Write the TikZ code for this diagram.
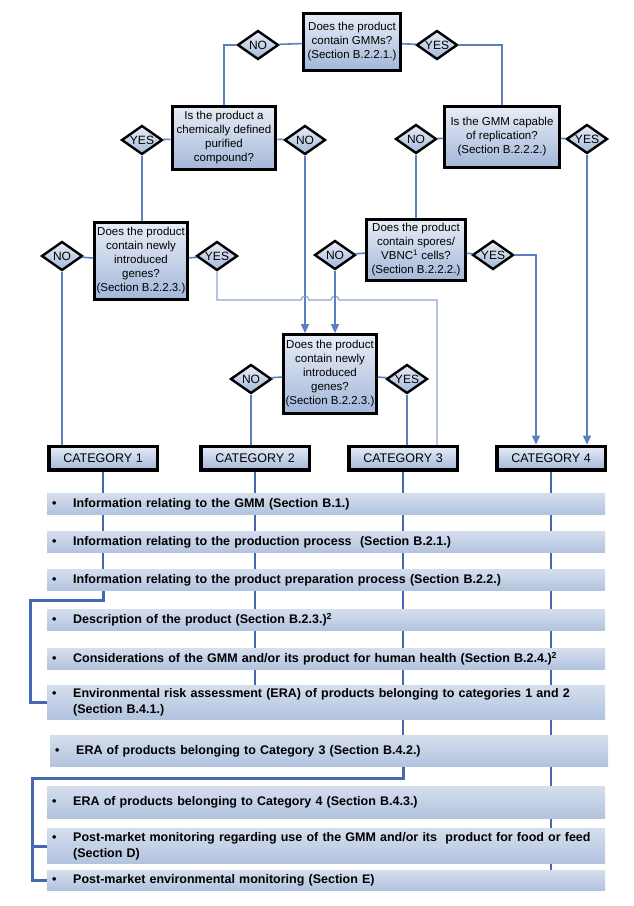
\documentclass[tikz,border=0pt]{standalone}
\usepackage{fontspec}
\setmainfont{Liberation Sans}
\usetikzlibrary{shapes.geometric, arrows.meta, backgrounds}
\definecolor{boxtop}{HTML}{E8EDF6}
\definecolor{boxbot}{HTML}{A3B7D9}
\definecolor{bartop}{HTML}{D5DEED}
\definecolor{barbot}{HTML}{B2C3DF}
\definecolor{flowblue}{HTML}{5B7FC0}
\definecolor{routeblue}{HTML}{4469B0}
\definecolor{hopblue}{HTML}{8DA3CF}
\tikzstyle{question} = [rectangle, draw=black, line width=3.2pt, top color=boxtop, bottom color=boxbot, align=center, inner sep=1pt, font=\fontsize{11.5}{14}\selectfont]
\tikzstyle{answer} = [diamond, aspect=1.4, draw=black, line width=2.4pt, top color=boxtop, bottom color=boxbot, inner sep=0pt, minimum width=41pt, minimum height=29pt, font=\fontsize{12}{12}\selectfont]
\tikzstyle{category} = [rectangle, draw=black, line width=3.5pt, top color=boxtop, bottom color=boxbot, minimum width=108.5pt, minimum height=23.5pt, font=\fontsize{12.5}{14}\selectfont]
\tikzstyle{infobar} = [rectangle, anchor=west, top color=bartop, bottom color=barbot, text width=548pt, inner xsep=5pt, inner ysep=2pt, align=left, minimum height=21pt, font=\bfseries\fontsize{12.5}{16}\selectfont]
\tikzstyle{flow} = [draw=flowblue, line width=1.6pt]
\tikzstyle{arrow} = [flow, -{Triangle[length=9pt, width=8pt]}]
\tikzstyle{route} = [draw=routeblue, line width=3pt]
\newcommand{\bitem}{\makebox[21pt][l]{\textbullet}}
\newcommand{\bindent}{\hspace*{21pt}}

\begin{document}
\begin{tikzpicture}[x=1pt, y=-1pt]
\useasboundingbox (0,0) rectangle (634,906);

% decision part
\node at (352, 42) (q1) [question, minimum width=96.5pt, minimum height=56.5pt] {Does the product\\contain GMMs?\\(Section B.2.2.1.)};
\node at (258, 45) (no1) [answer] {NO};
\node at (437, 45) (yes1) [answer] {YES};

\node at (224, 138) (q2) [question, minimum width=103.5pt, minimum height=63.5pt] {Is the product a\\chemically defined\\purified\\compound?};
\node at (142, 140) (yes2) [answer] {YES};
\node at (305, 140) (no2) [answer] {NO};

\node at (502, 137) (q3) [question, minimum width=114.5pt, minimum height=60.5pt] {Is the GMM capable\\of replication?\\(Section B.2.2.2.)};
\node at (416, 139) (no3) [answer] {NO};
\node at (587, 139) (yes3) [answer] {YES};

\node at (141, 261) (q4) [question, minimum width=92.5pt, minimum height=76.5pt] {Does the product\\contain newly\\introduced\\genes?\\(Section B.2.2.3.)};
\node at (62, 256) (no4) [answer] {NO};
\node at (217, 256) (yes4) [answer] {YES};

\node at (416, 250) (q5) [question, minimum width=98.5pt, minimum height=61.5pt] {Does the product\\contain spores/\\VBNC\textsuperscript{1} cells?\\(Section B.2.2.2.)};
\node at (335, 255) (no5) [answer] {NO};
\node at (493, 255) (yes5) [answer] {YES};

\node at (330, 374) (q7) [question, minimum width=92.5pt, minimum height=78.5pt] {Does the product\\contain newly\\introduced\\genes?\\(Section B.2.2.3.)};
\node at (251, 379) (no7) [answer] {NO};
\node at (407, 379) (yes7) [answer] {YES};

\node at (103, 458) (cat1) [category] {CATEGORY 1};
\node at (255, 458) (cat2) [category] {CATEGORY 2};
\node at (403, 458) (cat3) [category] {CATEGORY 3};
\node at (551, 458) (cat4) [category] {CATEGORY 4};

\draw [flow] (q1) -- (no1);
\draw [flow] (no1.west) -| (q2.north);
\draw [flow] (q1) -- (yes1);
\draw [flow] (yes1.east) -| (q3.north);
\draw [flow] (q2) -- (yes2);
\draw [flow] (yes2.south) -- (yes2.south |- q4.north);
\draw [flow] (q2) -- (no2);
\draw [arrow] (no2.south) -- (no2.south |- q7.north);
\draw [flow] (q3) -- (no3);
\draw [flow] (no3.south) -- (no3.south |- q5.north);
\draw [flow] (q3) -- (yes3);
\draw [arrow] (yes3.south) -- (yes3.south |- cat4.north);
\draw [flow] (q4) -- (no4);
\draw [flow] (no4.south) -- (no4.south |- cat1.north);
\draw [flow] (q4) -- (yes4);
\coordinate (bend4) at (217, 300);
\draw [draw=hopblue, line width=1.1pt] (yes4.south) -- (bend4) -- ++(84,0) arc[start angle=180, end angle=0, radius=4pt] -- ++(22,0) arc[start angle=180, end angle=0, radius=4pt] -| ([xshift=34pt]cat3.north);
\draw [flow] (q5) -- (no5);
\draw [arrow] (no5.south) -- (no5.south |- q7.north);
\draw [flow] (q5) -- (yes5);
\draw [arrow] (yes5.east) -| ([xshift=-15pt]cat4.north);
\draw [flow] (q7) -- (no7);
\draw [flow] (no7.south) -- (no7.south |- cat2.north);
\draw [flow] (q7) -- (yes7);
\draw [flow] (yes7.south) -- (yes7.south |- cat3.north);

% information bars
\node at (47, 504) (bar1) [infobar] {\bitem Information relating to the GMM (Section B.1.)};
\node at (47, 542) (bar2) [infobar] {\bitem Information relating to the production process\ \ (Section B.2.1.)};
\node at (47, 580) (bar3) [infobar] {\bitem Information relating to the product preparation process (Section B.2.2.)};
\node at (47, 620) (bar4) [infobar] {\bitem Description of the product (Section B.2.3.)\textsuperscript{2}};
\node at (47, 659) (bar5) [infobar] {\bitem Considerations of the GMM and/or its product for human health (Section B.2.4.)\textsuperscript{2}};
\node at (47, 702) (bar6) [infobar, minimum height=34pt] {\bitem Environmental risk assessment (ERA) of products belonging to categories 1 and 2\\\bindent(Section B.4.1.)};
\node at (50, 751) (bar7) [infobar, minimum height=31pt] {\bitem ERA of products belonging to Category 3 (Section B.4.2.)};
\node at (47, 802) (bar8) [infobar, minimum height=32pt] {\bitem ERA of products belonging to Category 4 (Section B.4.3.)};
\node at (47, 846) (bar9) [infobar, minimum height=35pt] {\bitem Post-market monitoring regarding use of the GMM and/or its\ \ product for food or feed\\\bindent(Section D)};
\node at (47, 880) (bar10) [infobar, minimum height=20pt] {\bitem Post-market environmental monitoring (Section E)};

\begin{scope}[on background layer]
\coordinate (j1) at (30, 600);
\coordinate (j3) at (32, 778);
\draw [route, line width=2.4pt] (cat1.south) -- (cat1.south |- bar3.south);
\draw [route] (cat1.south |- bar3.south) |- (j1) |- (bar6.west);
\draw [route, line width=2.4pt] (cat2.south) -- (cat2.south |- bar6.north);
\draw [route, line width=2.4pt] (cat3.south) -- (cat3.south |- bar7.south);
\draw [route] (cat3.south |- bar7.south) |- (j3) |- (bar10.west);
\draw [route] (j3) |- (bar9.west);
\draw [route, line width=2.4pt] (cat4.south) -- (cat4.south |- bar10.north);
\end{scope}

\end{tikzpicture}
\end{document}
